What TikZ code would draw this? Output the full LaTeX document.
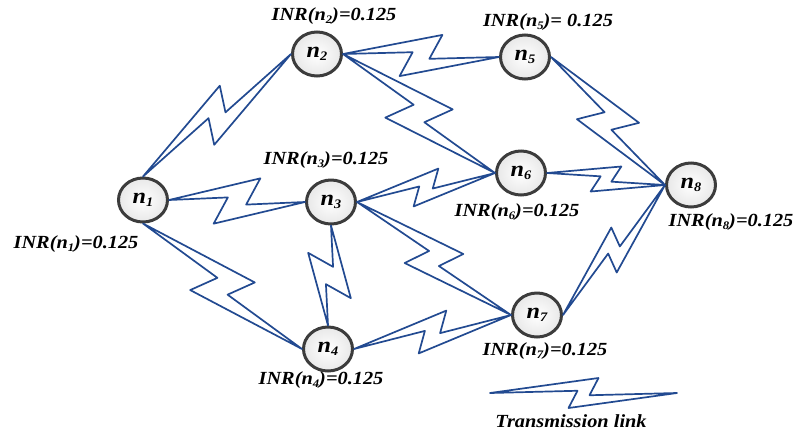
\documentclass[tikz,border=0pt]{standalone}
\usepackage{fontspec}
\setmainfont{Liberation Serif}[FakeStretch=1.1]
\usetikzlibrary{calc,shapes.geometric}

\definecolor{linkblue}{RGB}{34,74,145}
\definecolor{ringgray}{RGB}{60,60,60}

% subscript in the current font
\newcommand\sbs[2]{\raisebox{-0.35ex}{\fontsize{#1}{#1}\selectfont #2}}
% node name n_i
\newcommand\nname[1]{\fontsize{22}{22}\selectfont\bfseries\itshape n\sbs{13}{#1}}
% INR label
\newcommand\inr[2]{\fontsize{18.5}{18.5}\selectfont\bfseries\itshape INR(n\sbs{11.5}{#1})=#2}

\tikzset{
  nd/.style={ellipse, draw=ringgray, line width=3pt, inner color=white,
             outer color=gray!18,
             minimum width=49pt, minimum height=44pt, inner sep=0pt},
  lbl/.style={inner sep=0pt, anchor=center},
  link/.style={draw=linkblue, line width=1.7pt, line join=round}
}

% lightning-bolt transmission link from #1 to #2, zig amplitude #3 (pt)
\newcommand\bolt[3]{%
  \draw[link] let \p1=($(#2)-(#1)$), \n1={atan2(\y1,\x1)},
                  \p2=($(#1)!0.5!(#2)$) in
    (#1) -- ($(\p2)+(\n1+45:{1.4142*#3pt})$)
         -- ($(\p2)+(\n1-20.56:{0.4272*#3pt})$)
         -- (#2)
         -- ($(\p2)+(\n1-135:{1.4142*#3pt})$)
         -- ($(\p2)+(\n1+159.44:{0.4272*#3pt})$)
         -- cycle;
}

\begin{document}
\begin{tikzpicture}[x=1pt, y=-1pt]
  \useasboundingbox (0,0) rectangle (795,432);

  % network nodes
  \node[nd] (n1) at (143,200) {\nname{1}};
  \node[nd] (n2) at (317,54)  {\nname{2}};
  \node[nd] (n3) at (331,202) {\nname{3}};
  \node[nd] (n4) at (328,349) {\nname{4}};
  \node[nd] (n5) at (525,57)  {\nname{5}};
  \node[nd] (n6) at (521,173) {\nname{6}};
  \node[nd] (n7) at (537,315) {\nname{7}};
  \node[nd] (n8) at (691,185) {\nname{8}};

  % transmission links
  \bolt{n1.north}{n2.west}{21}
  \bolt{n1.east}{n3.west}{23}
  \bolt{n1.south}{n4.west}{23}
  \bolt{n2.east}{n5.west}{21}
  \bolt{n2.east}{n6.west}{24}
  \bolt{n3.east}{n6.west}{16}
  \bolt{n3.east}{n7.west}{21}
  \bolt{n3.south}{n4.north}{22}
  \bolt{n4.east}{n7.west}{18}
  \bolt{n5.east}{n8.west}{22}
  \bolt{n6.east}{n8.west}{14}
  \bolt{n7.east}{n8.west}{16}

  % INR labels
  \node[lbl] (l1) at (76,244)  {\inr{1}{0.125}};
  \node[lbl] (l2) at (334,16)  {\inr{2}{0.125}};
  \node[lbl] (l3) at (326,160) {\inr{3}{0.125}};
  \node[lbl] (l4) at (321,380) {\inr{4}{0.125}};
  \node[lbl] (l5) at (548,22)  {\inr{5}{ 0.125}};
  \node[lbl] (l6) at (517,212) {\inr{6}{0.125}};
  \node[lbl] (l7) at (545,351) {\inr{7}{0.125}};
  \node[lbl] (l8) at (731,222) {\inr{8}{0.125}};

  % legend
  \coordinate (lgA) at (490,393);
  \coordinate (lgB) at (677,393);
  \bolt{lgA}{lgB}{15}
  \node[lbl] (lgt) at (571,421)
    {\fontsize{18.5}{18.5}\selectfont\bfseries\itshape Transmission link};
\end{tikzpicture}
\end{document}
